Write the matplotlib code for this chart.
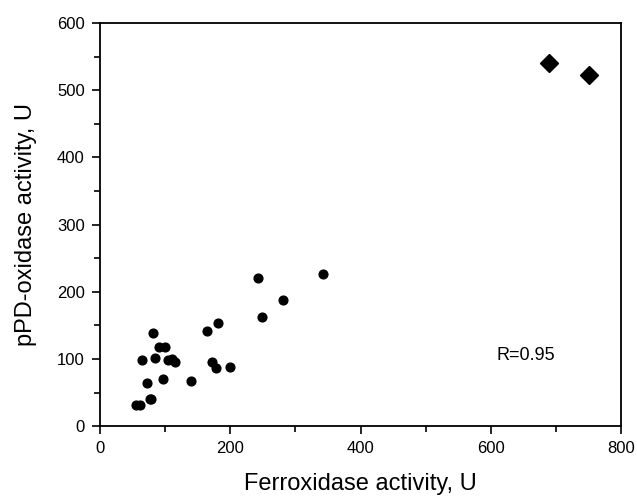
import matplotlib
matplotlib.use("Agg")
import matplotlib.pyplot as plt
from matplotlib.ticker import MultipleLocator

plt.rcParams['font.family'] = ['Liberation Sans', 'DejaVu Sans']

# serum samples (circles)
ferro_x = [56, 62, 76, 79, 72, 96, 139, 64, 85, 105, 110, 115, 91, 100, 82,
           172, 178, 200, 165, 181, 248, 243, 281, 342]
ppd_y = [31, 31, 41, 41, 64, 70, 67, 99, 101, 99, 100, 96, 118, 118, 139,
         95, 87, 88, 141, 154, 162, 221, 187, 227]

# purified samples (diamonds)
pure_x = [690, 750]
pure_y = [540, 522]

fig = plt.figure(figsize=(6.37, 4.99), dpi=100)
ax = fig.add_axes([0.157, 0.146, 0.818, 0.808])

ax.plot(ferro_x, ppd_y, 'o', color='black', markersize=6.3)
ax.plot(pure_x, pure_y, 'D', color='black', markersize=9.5)

ax.set_xlim(0, 800)
ax.set_ylim(0, 600)
ax.xaxis.set_major_locator(MultipleLocator(200))
ax.xaxis.set_minor_locator(MultipleLocator(100))
ax.yaxis.set_major_locator(MultipleLocator(100))
ax.yaxis.set_minor_locator(MultipleLocator(50))
ax.tick_params(which='major', direction='out', length=6, width=1.2,
               labelsize=12, pad=5)
ax.tick_params(which='minor', direction='out', length=4, width=1.2)
for s in ax.spines.values():
    s.set_linewidth(1.3)

ax.set_xlabel('Ferroxidase activity, U', fontsize=17, labelpad=12)
ax.set_ylabel('pPD-oxidase activity, U', fontsize=17, labelpad=14)
ax.text(653, 105, 'R=0.95', fontsize=13, ha='center', va='center')

fig.savefig('out.png', dpi=100)
